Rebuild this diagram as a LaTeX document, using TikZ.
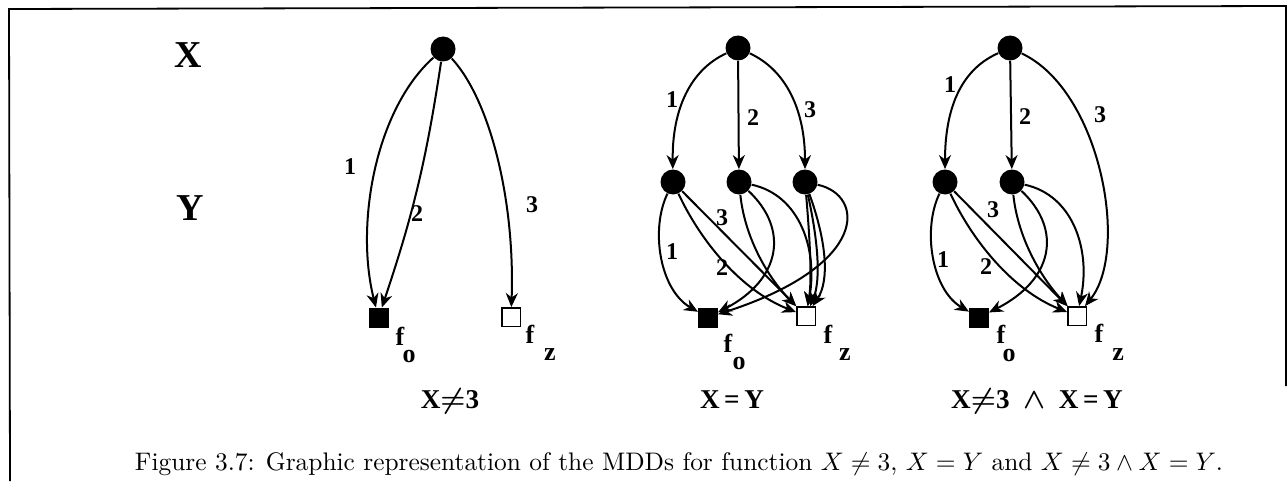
\documentclass[tikz,border=0pt]{standalone}
\usepackage{fontspec}
\usepackage{graphicx}
\newfontfamily\lsb{Liberation Serif}
\usetikzlibrary{arrows.meta}
\tikzset{
  mvar/.style={circle, fill=black, minimum size=12.5pt, inner sep=0pt},
  termo/.style={rectangle, fill=black, draw=black, line width=0.5pt, minimum size=9.5pt, inner sep=0pt},
  termz/.style={rectangle, fill=white, draw=black, line width=0.7pt, minimum size=9.2pt, inner sep=0pt},
  arc/.style={line width=1pt, -{Stealth[length=7pt,width=6pt,inset=2.2pt]}},
  elab/.style={font=\lsb\bfseries\fontsize{12}{14}\selectfont, inner sep=0pt},
  flab/.style={font=\lsb\bfseries\fontsize{13}{15}\selectfont, inner sep=0pt, text depth=0pt},
  varlab/.style={font=\lsb\bfseries\fontsize{19}{22}\selectfont, inner sep=0pt, anchor=base},
  fnlab/.style={font=\lsb\bfseries\boldmath\fontsize{13.6}{16}\selectfont, inner sep=0pt, anchor=base},
  frame/.style={line width=0.9pt}
}
\begin{document}
\begin{tikzpicture}[x=0.5pt, y=-0.5pt]
\useasboundingbox (0,0) rectangle (1288,481);
% frame
\coordinate (fbl) at (10,481);
\coordinate (ftl) at (9,9);
\coordinate (ftr) at (1286,6);
\coordinate (fbr) at (1286,386);
\draw[frame] (fbl) -- (ftl) -- (ftr) -- (fbr);

% level labels
\node[varlab] (lx) at (188,68) {X};
\node[varlab] (ly) at (190,220) {Y};

% ---------- Diagram 1: X != 3 ----------
\node[mvar] (r1) at (443,49) {};
\node[termo] (a0) at (378.5,317.5) {};
\node[termz] (az) at (511,317) {};
\draw[arc] (r1) .. controls (375,110) and (355,225) .. (a0);
\draw[arc] (r1) to[bend left=5] (a0);
\draw[arc] (r1) .. controls (490,100) and (515,200) .. (az);
\node[elab] (l11) at (350,167) {1};
\node[elab] (l12) at (417,214) {2};
\node[elab] (l13) at (532,205) {3};
\node[flab] (fa0) at (400,336) {f};
\node[flab] (fa0s) at (409,356) {o};
\node[flab] (faz) at (530,334) {f};
\node[flab] (fazs) at (550,355) {z};
\node[fnlab] (t1) at (450,408) {X$\neq$3};

% ---------- Diagram 2: X = Y ----------
\node[mvar] (r2) at (738,48) {};
\node[mvar] (y1) at (673,182) {};
\node[mvar] (y2) at (739,182) {};
\node[mvar] (y3) at (805,182) {};
\node[termo] (b0) at (708,317.5) {};
\node[termz] (bz) at (806,316) {};
\draw[arc] (r2) .. controls (690,70) and (672,110) .. (y1);
\draw[arc] (r2) -- (y2);
\draw[arc] (r2) .. controls (786,70) and (805,110) .. (y3);
\node[elab] (l21) at (672,100) {1};
\node[elab] (l22) at (753,118) {2};
\node[elab] (l23) at (810,110) {3};
% from y1
\draw[arc] (y1) .. controls (650,230) and (660,290) .. (b0);
\draw[arc] (y1) .. controls (700,240) and (740,290) .. (bz);
\draw[arc] (y1) -- (bz);
\node[elab] (m21) at (672,252) {1};
\node[elab] (m22) at (722,268) {2};
\node[elab] (m23) at (722,218) {3};
% from y2
\draw[arc] (y2) .. controls (745,240) and (770,280) .. (bz);
\draw[arc] (y2) .. controls (790,230) and (780,280) .. (b0);
\draw[arc] (y2) .. controls (800,195) and (818,250) .. (bz);
% from y3
\draw[arc] (y3) .. controls (810,240) and (812,280) .. (bz);
\draw[arc] (y3) .. controls (818,240) and (821,280) .. (bz);
\draw[arc] (y3) .. controls (826,240) and (830,280) .. (bz);
\draw[arc] (y3) .. controls (865,195) and (870,265) .. (b0);
\node[flab] (fb0) at (728,343) {f};
\node[flab] (fb0s) at (739,363) {o};
\node[flab] (fbz) at (828,334) {f};
\node[flab] (fbzs) at (845,355) {z};
\node[fnlab] (t2) at (732,408) {X\,=\,Y};

% ---------- Diagram 3: X != 3 and X = Y ----------
\node[mvar] (r3) at (1010,48) {};
\node[mvar] (z1) at (945,182) {};
\node[mvar] (z2) at (1012,182) {};
\node[termo] (c0) at (979,317.5) {};
\node[termz] (cz) at (1077,316) {};
\draw[arc] (r3) .. controls (960,70) and (945,110) .. (z1);
\draw[arc] (r3) -- (z2);
\draw[arc] (r3) .. controls (1100,90) and (1130,250) .. (cz);
\node[elab] (l31) at (950,85) {1};
\node[elab] (l32) at (1025,117) {2};
\node[elab] (l33) at (1100,115) {3};
% from z1
\draw[arc] (z1) .. controls (922,230) and (932,290) .. (c0);
\draw[arc] (z1) .. controls (972,240) and (1012,290) .. (cz);
\draw[arc] (z1) -- (cz);
\node[elab] (m31) at (943,260) {1};
\node[elab] (m32) at (986,267) {2};
\node[elab] (m33) at (993,210) {3};
% from z2
\draw[arc] (z2) .. controls (1018,240) and (1043,280) .. (cz);
\draw[arc] (z2) .. controls (1063,230) and (1053,280) .. (c0);
\draw[arc] (z2) .. controls (1073,195) and (1091,250) .. (cz);
\node[flab] (fc0) at (1001,334) {f};
\node[flab] (fc0s) at (1009,355) {o};
\node[flab] (fcz) at (1099,333) {f};
\node[flab] (fczs) at (1118,355) {z};
\node[fnlab] (t3) at (1037,408) {X$\neq$3\enspace$\wedge$\enspace X\,=\,Y};

% caption
\node[anchor=base, inner sep=0pt] (cap) at (679,470)
  {\resizebox{544pt}{!}{Figure 3.7: Graphic representation of the MDDs for function $X \neq 3$, $X = Y$ and $X \neq 3 \wedge X = Y$.}};
\end{tikzpicture}
\end{document}
